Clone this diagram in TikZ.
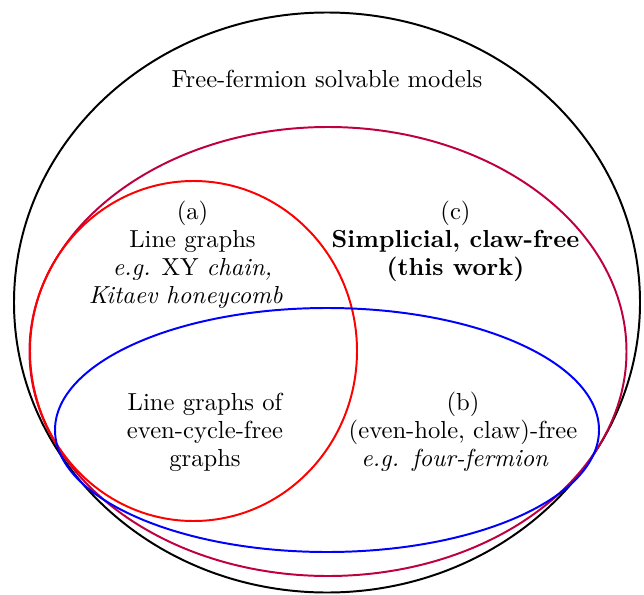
\documentclass[tikz,border=0pt]{standalone}
\begin{document}
\begin{tikzpicture}[x=0.406pt,y=-0.406pt,
  setline/.style={thick},
  lbl/.style={align=center,font=\fontsize{10}{11.37}\selectfont,inner sep=0pt}]
\useasboundingbox (0,0) rectangle (644,595);
\draw[setline,black] (327,302.5) ellipse [x radius=313, y radius=290];
\draw[setline,purple] (328,351.5) ellipse [x radius=298.5, y radius=224.5];
\draw[setline,red] (193.5,351) ellipse [x radius=163.5, y radius=170];
\draw[setline,blue] (327,430) ellipse [x radius=272, y radius=122];
\node[lbl] (title) at (327,79) {Free-fermion solvable models};
\node[lbl] (a) at (192.5,255) {(a)\\Line graphs\\\emph{e.g.} XY \emph{chain,}\hspace*{5.5pt}\\\emph{Kitaev honeycomb}\hspace*{5.5pt}};
\node[lbl] (c) at (455.5,241) {(c)\\\textbf{Simplicial, claw-free}\\\textbf{(this work)}};
\node[lbl] (ab) at (205,432) {Line graphs of\\even-cycle-free\\graphs};
\node[lbl] (b) at (463,432) {(b)\\(even-hole, claw)-free\\\emph{e.g.\ \,four-fermion}\hspace*{6.5pt}};
\end{tikzpicture}
\end{document}
